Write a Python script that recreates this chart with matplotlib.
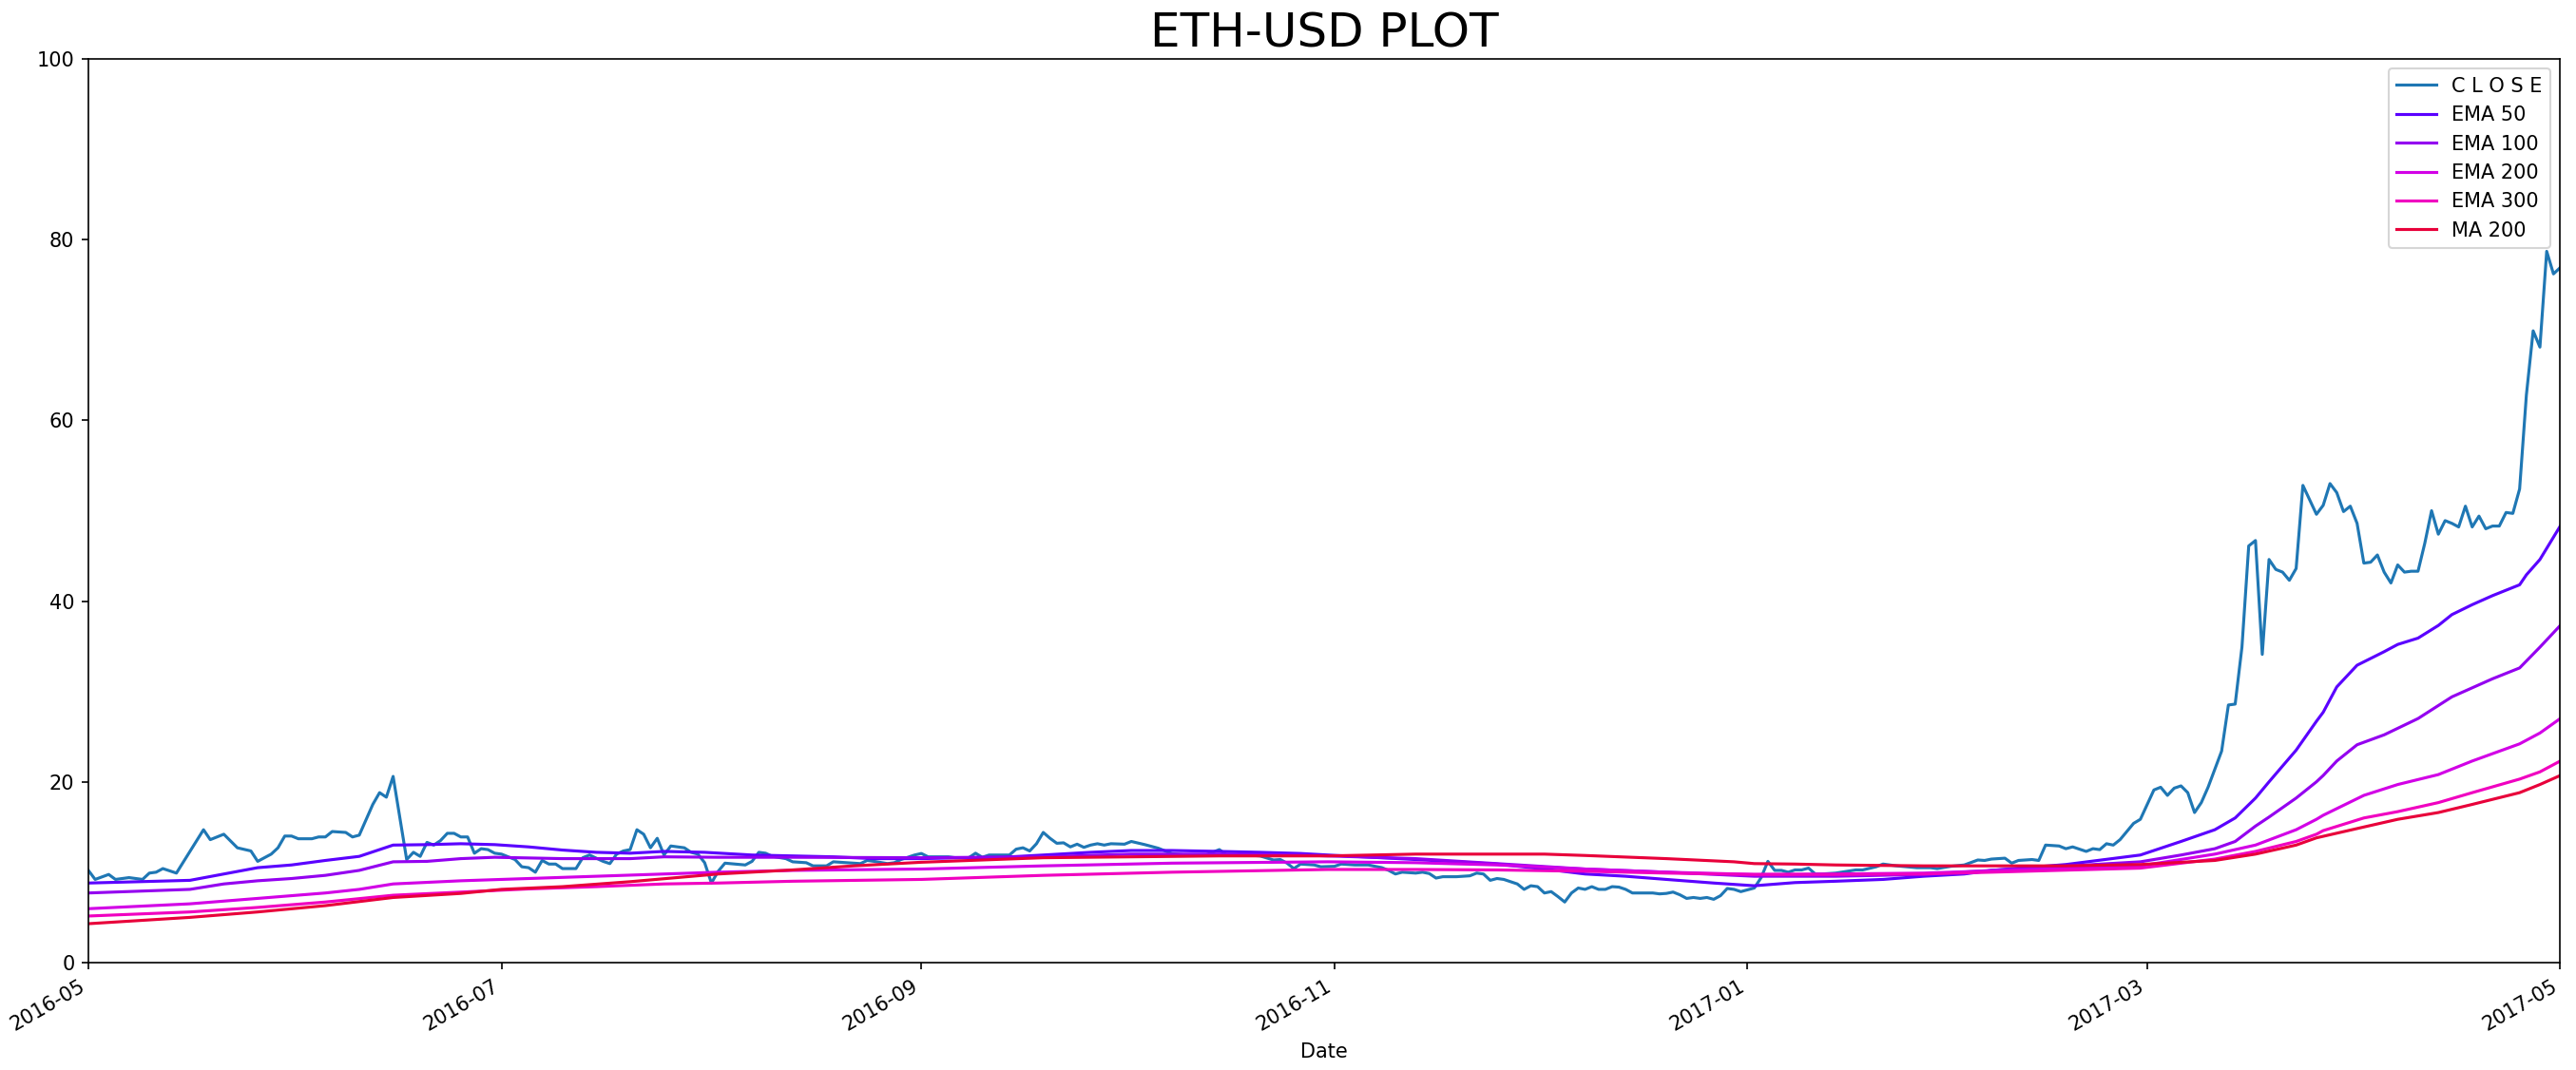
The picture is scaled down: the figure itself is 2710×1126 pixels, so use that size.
import matplotlib
matplotlib.use("Agg")
import matplotlib.pyplot as plt
import matplotlib.dates as mdates
import pandas as pd

start = pd.Timestamp("2016-05-01")

# closing price, (days after 2016-05-01, USD)
close_days = [0, 1, 3, 4, 6, 8, 9, 10, 11, 13, 15, 17, 18, 20, 22, 24, 25, 27, 28, 29,
              30, 31, 33, 34, 35, 36, 38, 39, 40, 41, 42, 43, 44, 45, 47, 48, 49, 50, 51, 52,
              53, 54, 55, 56, 57, 58, 59, 60, 61, 63, 64, 65, 66, 67, 68, 69, 70, 72, 73, 74,
              76, 77, 78, 79, 80, 81, 82, 83, 84, 85, 86, 88, 89, 90, 91, 92, 93, 94, 97, 98,
              99, 100, 101, 103, 104, 106, 107, 109, 110, 112, 114, 115, 116, 118, 119, 120, 122, 123, 124, 126,
              127, 128, 130, 131, 132, 133, 135, 136, 137, 138, 139, 140, 141, 142, 143, 144, 145, 146, 147, 148,
              149, 150, 151, 153, 154, 156, 158, 160, 162, 165, 167, 168, 171, 173, 175, 176, 177, 178, 179, 181,
              182, 184, 185, 187, 189, 191, 192, 193, 194, 196, 197, 198, 199, 200, 202, 203, 204, 205, 206, 207,
              208, 209, 211, 212, 213, 214, 215, 216, 217, 218, 219, 220, 221, 222, 223, 224, 225, 226, 227, 228,
              230, 231, 232, 233, 234, 235, 236, 237, 238, 239, 240, 241, 242, 243, 244, 246, 247, 248, 249, 250,
              251, 252, 253, 254, 255, 256, 258, 261, 262, 264, 265, 267, 270, 272, 273, 275, 277, 279, 280, 281,
              283, 284, 285, 287, 288, 289, 291, 292, 293, 295, 296, 297, 298, 299, 300, 302, 303, 305, 306, 307,
              308, 309, 310, 311, 312, 313, 315, 316, 317, 318, 319, 320, 321, 322, 323, 324, 325, 326, 327, 328,
              329, 330, 331, 332, 333, 334, 335, 336, 337, 338, 339, 340, 341, 342, 343, 344, 345, 346, 347, 348,
              349, 350, 351, 352, 353, 354, 355, 356, 357, 358, 359, 360, 361, 362, 363, 364, 365]
close_vals = [10.2, 9.2, 9.75, 9.2, 9.4, 9.2, 9.9, 10.0, 10.4, 9.9, 12.3, 14.7, 13.6, 14.2, 12.7, 12.35, 11.2, 12.0, 12.7, 14.0,
              14.0, 13.7, 13.7, 13.9, 13.9, 14.5, 14.4, 13.9, 14.1, 15.8, 17.5, 18.8, 18.3, 20.6, 11.4, 12.2, 11.75, 13.3, 13.0, 13.5,
              14.3, 14.3, 13.9, 13.9, 12.1, 12.6, 12.5, 12.1, 12.0, 11.4, 10.6, 10.5, 10.0, 11.3, 10.9, 10.9, 10.4, 10.4, 11.6, 11.9,
              11.2, 10.95, 12.0, 12.35, 12.5, 14.7, 14.2, 12.7, 13.75, 11.9, 12.9, 12.7, 12.2, 12.0, 11.05, 8.8, 10.1, 11.0, 10.8, 11.2,
              12.2, 12.1, 11.75, 11.5, 11.15, 11.05, 10.7, 10.7, 11.15, 11.05, 10.95, 11.3, 11.2, 10.95, 11.05, 11.4, 11.9, 12.07, 11.7, 11.7,
              11.7, 11.6, 11.6, 12.1, 11.65, 11.9, 11.9, 11.9, 12.55, 12.7, 12.35, 13.15, 14.4, 13.75, 13.2, 13.25, 12.8, 13.1, 12.75, 13.0,
              13.15, 13.0, 13.15, 13.1, 13.4, 13.05, 12.65, 12.05, 11.9, 11.9, 12.5, 11.95, 11.9, 11.8, 11.35, 11.4, 11.0, 10.4, 10.9, 10.8,
              10.6, 10.65, 10.9, 10.8, 10.8, 10.5, 10.2, 9.8, 10.0, 9.9, 10.0, 9.85, 9.35, 9.5, 9.5, 9.55, 9.6, 9.9, 9.8, 9.1,
              9.3, 9.2, 8.7, 8.1, 8.5, 8.4, 7.7, 7.85, 7.3, 6.7, 7.7, 8.25, 8.1, 8.4, 8.1, 8.1, 8.4, 8.35, 8.1, 7.7,
              7.7, 7.7, 7.6, 7.65, 7.8, 7.5, 7.1, 7.2, 7.1, 7.2, 7.0, 7.4, 8.2, 8.1, 7.85, 8.25, 9.4, 11.2, 10.2, 10.2,
              10.0, 10.25, 10.25, 10.45, 9.8, 9.8, 9.9, 10.25, 10.25, 10.6, 10.9, 10.7, 10.5, 10.5, 10.4, 10.65, 10.8, 11.35, 11.3, 11.45,
              11.55, 11.0, 11.3, 11.4, 11.3, 13.0, 12.9, 12.6, 12.8, 12.3, 12.6, 12.5, 13.15, 13.0, 13.6, 15.4, 15.85, 19.1, 19.4, 18.5,
              19.3, 19.55, 18.8, 16.6, 17.7, 19.4, 23.4, 28.5, 28.6, 34.9, 46.1, 46.7, 34.1, 44.6, 43.5, 43.2, 42.3, 43.6, 52.8, 51.2,
              49.6, 50.6, 53.0, 52.0, 49.9, 50.5, 48.6, 44.2, 44.3, 45.1, 43.2, 42.0, 44.0, 43.2, 43.3, 43.3, 46.4, 50.0, 47.4, 48.9,
              48.6, 48.2, 50.5, 48.2, 49.4, 48.0, 48.3, 48.3, 49.8, 49.7, 52.4, 62.8, 69.9, 68.1, 78.7, 76.2, 76.9]

ema50_days = [0, 15, 20, 25, 30, 35, 40, 45, 50, 55, 60, 65, 70, 75, 80, 85, 91, 98, 104, 110,
              116, 123, 129, 135, 141, 148, 154, 160, 167, 173, 179, 183, 196, 208, 215, 221, 227, 233, 240, 246,
              252, 258, 265, 271, 277, 281, 292, 303, 309, 314, 317, 320, 322, 326, 329, 330, 332, 335, 339, 341,
              344, 347, 349, 352, 355, 359, 360, 362, 365]
ema50_vals = [8.8, 9.1, 9.8, 10.5, 10.8, 11.3, 11.75, 13.0, 13.05, 13.15, 13.05, 12.8, 12.45, 12.2, 12.1, 12.3, 12.2, 11.9, 11.8, 11.7,
              11.5, 11.5, 11.6, 11.65, 11.9, 12.2, 12.4, 12.4, 12.3, 12.2, 12.07, 11.9, 11.4, 10.9, 10.35, 9.8, 9.55, 9.2, 8.8, 8.5,
              8.85, 9.0, 9.2, 9.55, 9.8, 10.2, 10.85, 11.9, 13.4, 14.7, 16.0, 18.2, 20.0, 23.5, 26.7, 27.7, 30.5, 32.9, 34.4, 35.2,
              35.9, 37.3, 38.5, 39.6, 40.6, 41.8, 42.9, 44.6, 48.3]

ema100_days = [0, 15, 20, 25, 30, 35, 40, 45, 50, 55, 60, 70, 80, 85, 93, 104, 123, 141, 154, 167,
               179, 183, 196, 208, 221, 233, 246, 258, 271, 281, 303, 309, 314, 317, 320, 322, 326, 329, 330, 332,
               335, 339, 344, 349, 355, 359, 362, 365]
ema100_vals = [7.7, 8.1, 8.7, 9.05, 9.3, 9.65, 10.2, 11.15, 11.2, 11.5, 11.65, 11.5, 11.5, 11.7, 11.65, 11.65, 11.6, 11.7, 12.0, 12.0,
               11.9, 11.8, 11.5, 10.95, 10.35, 10.0, 9.55, 9.55, 9.75, 10.2, 11.15, 11.9, 12.6, 13.4, 15.1, 16.1, 18.2, 20.0, 20.7, 22.3,
               24.1, 25.2, 27.0, 29.4, 31.4, 32.6, 34.9, 37.3]

ema200_days = [0, 15, 25, 35, 40, 45, 55, 65, 75, 85, 93, 104, 123, 141, 160, 183, 196, 208, 221, 233,
               246, 258, 271, 281, 303, 314, 320, 326, 329, 330, 336, 341, 347, 352, 359, 362, 365]
ema200_vals = [5.96, 6.5, 7.1, 7.7, 8.1, 8.7, 9.05, 9.3, 9.55, 9.8, 10.0, 10.2, 10.35, 10.7, 11.0, 11.15, 11.05, 10.8, 10.35, 10.0,
               9.75, 9.8, 9.9, 10.15, 10.7, 12.0, 13.0, 14.7, 15.85, 16.3, 18.5, 19.7, 20.8, 22.3, 24.2, 25.4, 27.0]

ema300_days = [0, 15, 25, 35, 45, 55, 65, 75, 85, 93, 104, 123, 141, 160, 183, 196, 208, 221, 233, 246,
               258, 271, 281, 303, 314, 320, 326, 329, 330, 336, 341, 347, 352, 359, 362, 365]
ema300_vals = [5.15, 5.6, 6.1, 6.7, 7.45, 7.8, 8.15, 8.4, 8.7, 8.8, 9.0, 9.2, 9.65, 10.0, 10.3, 10.3, 10.25, 10.1, 9.9, 9.75,
               9.75, 9.8, 10.0, 10.45, 11.45, 12.3, 13.4, 14.2, 14.6, 16.0, 16.7, 17.7, 18.8, 20.3, 21.1, 22.3]

ma200_days = [0, 15, 25, 35, 45, 55, 61, 70, 80, 93, 104, 113, 123, 132, 141, 154, 167, 183, 196, 208,
              215, 221, 233, 243, 246, 252, 258, 271, 281, 292, 303, 314, 320, 326, 329, 336, 341, 347, 352, 359,
              362, 365]
ma200_vals = [4.3, 5.0, 5.6, 6.3, 7.2, 7.65, 8.1, 8.4, 8.95, 9.8, 10.25, 10.7, 11.1, 11.35, 11.6, 11.7, 11.8, 11.8, 12.0, 12.0,
              12.0, 11.85, 11.5, 11.15, 10.95, 10.9, 10.8, 10.7, 10.7, 10.7, 10.85, 11.3, 12.0, 13.0, 13.8, 15.0, 15.85, 16.6, 17.5, 18.8,
              19.7, 20.7]


def to_dates(days):
    return start + pd.to_timedelta(days, unit="D")


series = [
    ("C L O S E", close_days, close_vals, "#1f77b4"),
    ("EMA 50", ema50_days, ema50_vals, "#5a00ff"),
    ("EMA 100", ema100_days, ema100_vals, "#9400f0"),
    ("EMA 200", ema200_days, ema200_vals, "#d200e6"),
    ("EMA 300", ema300_days, ema300_vals, "#f000c0"),
    ("MA 200", ma200_days, ma200_vals, "#e8003a"),
]

fig, ax = plt.subplots(figsize=(18.07, 7.507), dpi=150)
for name, days, vals, col in series:
    ax.plot(to_dates(days), vals, color=col, label=name, linewidth=1.5)

ax.set_xlim(pd.Timestamp("2016-05-01"), pd.Timestamp("2017-05-01"))
ax.set_ylim(0, 100)
ax.xaxis.set_major_locator(mdates.MonthLocator(bymonth=[1, 3, 5, 7, 9, 11]))
ax.xaxis.set_major_formatter(mdates.DateFormatter("%Y-%m"))
plt.setp(ax.get_xticklabels(), rotation=30, ha="right")
ax.set_xlabel("Date")
ax.set_title("ETH-USD PLOT", fontsize=24)
ax.legend(loc="upper right")

fig.subplots_adjust(left=0.0343, right=0.9937, bottom=0.1004, top=0.945)
fig.savefig("out.png", dpi=150)
